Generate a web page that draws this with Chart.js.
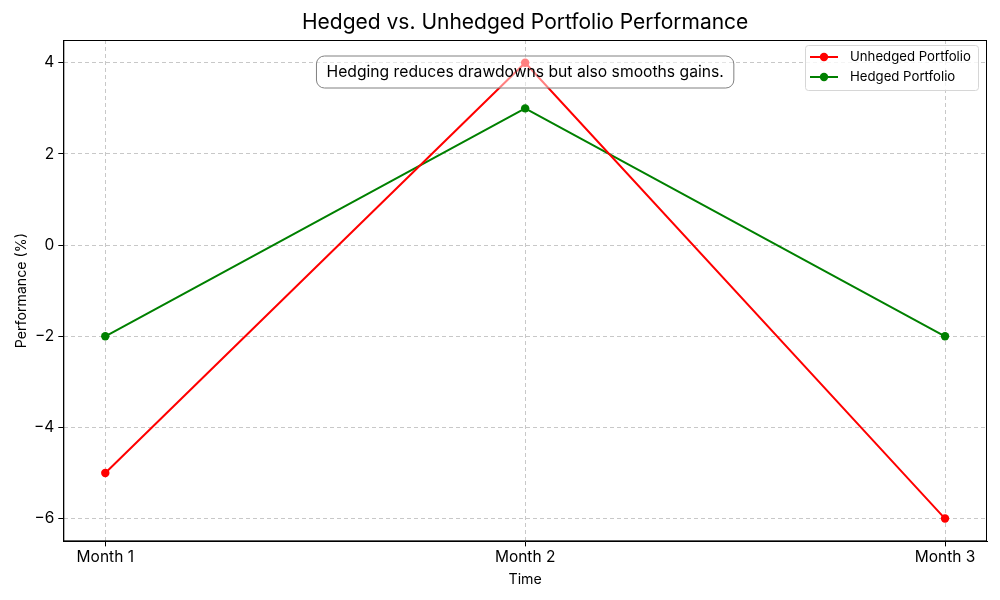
<!DOCTYPE html>
<html>
<head>
<meta charset="utf-8">
<script src="https://cdn.jsdelivr.net/npm/chart.js@4"></script>
<style>
  body { margin: 0; background: #fff; }
  #wrap { width: 1000px; height: 600px; }
</style>
</head>
<body>
<div id="wrap"><canvas id="perf-chart" width="1000" height="600"></canvas></div>
<script>
const months = ['Month 1', 'Month 2', 'Month 3'];
const unhedged = [-5, 4, -6];
const hedged = [-2, 3, -2];
const yTicks = [-6, -4, -2, 0, 2, 4];
const title = 'Hedged vs. Unhedged Portfolio Performance';
const note = 'Hedging reduces drawdowns but also smooths gains.';

const FONT = 'Inter, "DejaVu Sans", sans-serif';

function toPoints(values) {
    return values.map((v, i) => ({ x: i, y: v }));
}

// title over the plot area, frame, annotation box and legend, drawn like matplotlib does
const extras = {
    id: 'extras',
    afterDraw(chart) {
        const ctx = chart.ctx;
        const a = chart.chartArea;
        ctx.save();
        ctx.strokeStyle = '#000';
        ctx.lineWidth = 1;
        ctx.strokeRect(a.left + 0.5, a.top + 0.5, a.right - a.left - 1, a.bottom - a.top - 1);

        // title centred on the axes
        ctx.fillStyle = '#000';
        ctx.font = '21px ' + FONT;
        ctx.textAlign = 'center';
        ctx.textBaseline = 'middle';
        ctx.fillText(title, (a.left + a.right) / 2, 23);

        // annotation
        const xs = chart.scales.x;
        const cx = xs.getPixelForValue(1);
        ctx.font = '15.7px ' + FONT;
        const tw = ctx.measureText(note).width;
        const bx = cx - tw / 2 - 10, by = 56, bw = tw + 20, bh = 32;
        ctx.beginPath();
        ctx.roundRect(bx, by, bw, bh, 8);
        ctx.fillStyle = 'rgba(255,255,255,0.5)';
        ctx.fill();
        ctx.strokeStyle = '#808080';
        ctx.stroke();
        ctx.fillStyle = '#000';
        ctx.fillText(note, cx, by + bh / 2);

        // legend
        const lx = 805, ly = 45, lw = 173, lh = 45;
        ctx.beginPath();
        ctx.roundRect(lx + 0.5, ly + 0.5, lw, lh, 3);
        ctx.fillStyle = 'rgba(255,255,255,0.8)';
        ctx.fill();
        ctx.strokeStyle = '#d6d6d6';
        ctx.stroke();
        ctx.font = '13.2px ' + FONT;
        ctx.textAlign = 'left';
        chart.data.datasets.forEach((ds, i) => {
            const y = 57 + i * 20;
            ctx.strokeStyle = ds.borderColor;
            ctx.lineWidth = 2;
            ctx.beginPath();
            ctx.moveTo(810, y);
            ctx.lineTo(838, y);
            ctx.stroke();
            ctx.fillStyle = ds.borderColor;
            ctx.beginPath();
            ctx.arc(824, y, 4.2, 0, Math.PI * 2);
            ctx.fill();
            ctx.fillStyle = '#000';
            ctx.fillText(ds.label, 850, y);
        });
        ctx.restore();
    }
};

const ctx = document.getElementById('perf-chart').getContext('2d');
new Chart(ctx, {
    type: 'line',
    data: {
        datasets: [
            {
                label: 'Unhedged Portfolio',
                data: toPoints(unhedged),
                borderColor: '#ff0000',
                backgroundColor: '#ff0000',
                borderWidth: 2,
                pointRadius: 4.2,
                pointBorderWidth: 0
            },
            {
                label: 'Hedged Portfolio',
                data: toPoints(hedged),
                borderColor: '#008000',
                backgroundColor: '#008000',
                borderWidth: 2,
                pointRadius: 4.2,
                pointBorderWidth: 0
            }
        ]
    },
    options: {
        responsive: false,
        animation: false,
        layout: { padding: { top: 40, right: 13, bottom: 8, left: 9 } },
        plugins: {
            legend: { display: false },
            tooltip: { enabled: false },
            title: { display: false }
        },
        scales: {
            x: {
                type: 'linear',
                min: -0.1,
                max: 2.1,
                afterBuildTicks: axis => { axis.ticks = months.map((m, i) => ({ value: i })); },
                ticks: {
                    color: '#000',
                    font: { family: FONT, size: 15.5 },
                    padding: 2,
                    callback: v => months[v]
                },
                grid: {
                    color: '#c8c8c8',
                    tickColor: '#000',
                    tickLength: 5,
                    tickBorderDash: []
                },
                border: { color: '#000', dash: [4, 3] },
                title: {
                    display: true,
                    text: 'Time',
                    color: '#000',
                    font: { family: FONT, size: 14.2 },
                    padding: { top: 2 }
                }
            },
            y: {
                min: -6.5,
                max: 4.5,
                afterBuildTicks: axis => { axis.ticks = yTicks.map(v => ({ value: v })); },
                ticks: {
                    color: '#000',
                    font: { family: FONT, size: 15.5 },
                    padding: 4,
                    callback: v => String(v).replace('-', '\u2212')
                },
                grid: {
                    color: '#c8c8c8',
                    tickColor: '#000',
                    tickLength: 5,
                    tickBorderDash: []
                },
                border: { color: '#000', dash: [4, 3] },
                title: {
                    display: true,
                    text: 'Performance (%)',
                    color: '#000',
                    font: { family: FONT, size: 14.2 },
                    padding: { bottom: 0 }
                }
            }
        }
    },
    plugins: [extras]
});
</script>
</body>
</html>
